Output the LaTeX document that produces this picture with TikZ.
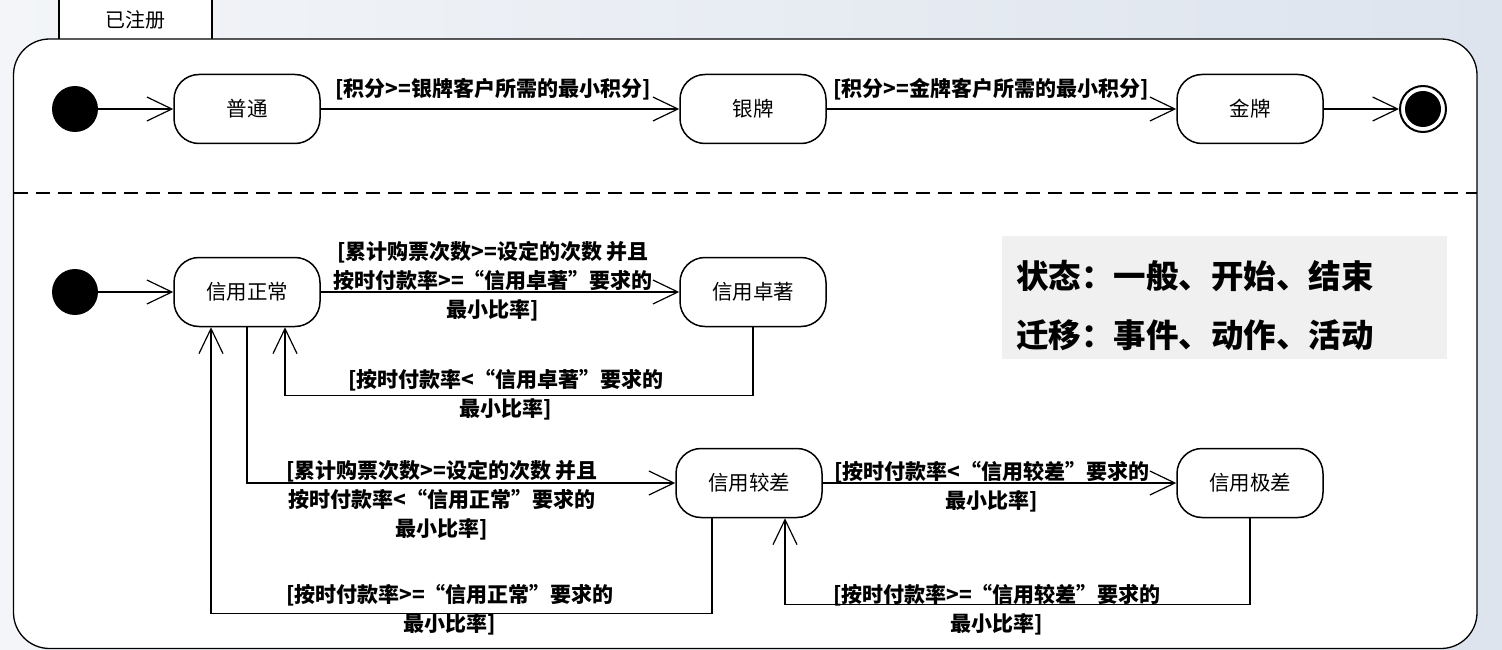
\documentclass[tikz,border=0pt]{standalone}
\usepackage{fontspec}
\newfontfamily\cjk{Noto Sans CJK SC}
\usetikzlibrary{arrows.meta}
\definecolor{bgl}{RGB}{243,245,248}
\definecolor{bgr}{RGB}{221,228,238}
\definecolor{legendbg}{RGB}{240,240,240}
\tikzset{
  statebox/.style={draw, line width=1.5pt, rounded corners=25pt, minimum width=146pt, minimum height=69pt, inner sep=0pt, fill=white, font=\cjk\fontsize{20.5}{24}\selectfont},
  guard/.style={align=center, inner sep=0pt, font=\cjk\bfseries\fontsize{21}{29}\selectfont},
  conn/.style={line width=1.3pt, -{Straight Barb[length=25pt,width=24pt,line width=1.2pt]}},
  legendtxt/.style={anchor=west, inner sep=0pt, font=\cjk\bfseries\fontsize{32.5}{36}\selectfont}
}
\begin{document}
\begin{tikzpicture}[x=1pt,y=-1pt]
\useasboundingbox (0,0) rectangle (1502,650);
\shade[left color=bgl, right color=bgr] (0,0) rectangle (1502,650);
% tab
\node[draw, line width=1.2pt, fill=white, minimum width=153pt, minimum height=40pt, inner sep=0pt, font=\cjk\fontsize{20}{24}\selectfont] (tab) at (135.5,19.5) {已注册};
% main container
\draw[line width=1.3pt, fill=white, rounded corners=36pt] (13.5,39) rectangle (1477,648.5);
\draw[line width=2pt, dash pattern=on 14pt off 8pt] (13.5,193) -- (1477,193);
% top row
\node[circle, fill=black, minimum size=46pt, inner sep=0pt] (init1) at (75,109) {};
\node[statebox] (pt) at (247,109) {普通};
\node[statebox] (yp) at (753,109) {银牌};
\node[statebox] (jp) at (1250,109) {金牌};
\node[circle, draw, line width=2pt, fill=white, minimum size=46pt, inner sep=0pt] (fin) at (1423,109) {};
\node[circle, fill=black, minimum size=36pt, inner sep=0pt] (finin) at (fin) {};
\draw[conn] (init1) -- (pt);
\draw[conn] (pt) -- (yp);
\draw[conn] (yp) -- (jp);
\draw[conn] (jp) -- (fin);
\node[guard] (g1) at (493,89) {[积分>=银牌客户所需的最小积分]};
\node[guard] (g2) at (991,89) {[积分>=金牌客户所需的最小积分]};
% bottom
\node[circle, fill=black, minimum size=46pt, inner sep=0pt] (init2) at (75,292) {};
\node[statebox] (zc) at (247,292) {信用正常};
\node[statebox] (zz) at (753,292) {信用卓著};
\node[statebox] (jc) at (749,483) {信用较差};
\node[statebox] (jch) at (1250,483) {信用极差};
\draw[conn] (init2) -- (zc);
\draw[conn] (zc) -- (zz);
\draw[conn] (zz.south) -- ++(0,68) -| ([xshift=38pt]zc.south);
\draw[conn] (zc.south) |- (jc.west);
\draw[conn] ([xshift=-37pt]jc.south) -- ++(0,95) -| ([xshift=-36pt]zc.south);
\draw[conn] (jc) -- (jch);
\draw[conn] (jch.south) -- ++(0,86) -| ([xshift=36pt]jc.south);
\node[guard] (g3) at (493,281) {[累计购票次数>=设定的次数 并且\\按时付款率>=“信用卓著”要求的\\最小比率]};
\node[guard] (g4) at (506,395) {[按时付款率<“信用卓著”要求的\\最小比率]};
\node[guard] (g5) at (442,500) {[累计购票次数>=设定的次数 并且\\按时付款率<“信用正常”要求的\\最小比率]};
\node[guard] (g6) at (450,610) {[按时付款率>=“信用正常”要求的\\最小比率]};
\node[guard] (g7) at (992,487) {[按时付款率<“信用较差”要求的\\最小比率]};
\node[guard] (g8) at (997,610) {[按时付款率>=“信用较差”要求的\\最小比率]};
% legend
\fill[legendbg] (1002,236) rectangle (1447,359);
\node[legendtxt] (lg1) at (1016,276) {状态：一般、开始、结束};
\node[legendtxt] (lg2) at (1016,335) {迁移：事件、动作、活动};
\end{tikzpicture}
\end{document}
